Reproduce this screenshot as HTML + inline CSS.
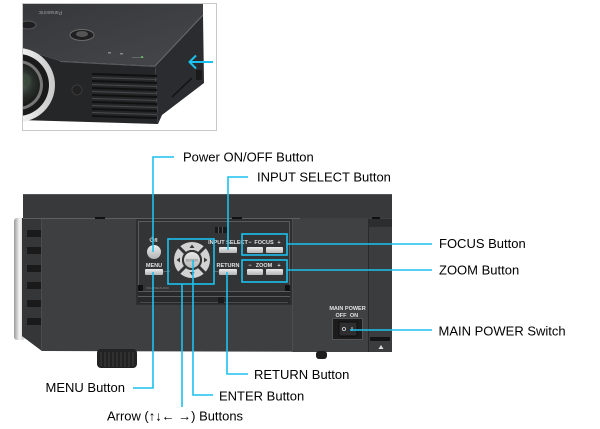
<!DOCTYPE html>
<html><head><meta charset="utf-8"><style>
html,body{margin:0;padding:0;background:#fff;width:600px;height:429px;overflow:hidden}
svg{display:block}
.t{font-family:"Liberation Sans",Arial,sans-serif;font-size:13px;fill:#000}
.s{font-family:"Liberation Sans",Arial,sans-serif;font-size:5.5px;fill:#e2e2e2;font-weight:bold}
.c{stroke:#1cc2ee;stroke-width:1.6;fill:none}
</style></head><body>
<svg width="600" height="429" viewBox="0 0 600 429" xmlns="http://www.w3.org/2000/svg">
<defs>
<clipPath id="fr"><rect x="23" y="4" width="193" height="126"/></clipPath>
<linearGradient id="btn" x1="0" y1="0" x2="0" y2="1"><stop offset="0" stop-color="#ececec"/><stop offset="1" stop-color="#b4b4b4"/></linearGradient>
<linearGradient id="top" x1="0" y1="0" x2="1" y2="1"><stop offset="0" stop-color="#36373a"/><stop offset="1" stop-color="#46474a"/></linearGradient>
<linearGradient id="silver" x1="0" y1="0" x2="1" y2="0"><stop offset="0" stop-color="#9a9a9a"/><stop offset="0.5" stop-color="#f4f4f4"/><stop offset="1" stop-color="#c8c8c8"/></linearGradient>
<radialGradient id="glass" cx="0.55" cy="0.45" r="0.6"><stop offset="0" stop-color="#5a6a5a"/><stop offset="0.5" stop-color="#2a302c"/><stop offset="1" stop-color="#111"/></radialGradient>
</defs>

<!-- ===== Top photo ===== -->
<rect x="22.5" y="3.5" width="194" height="127" fill="#fff" stroke="#c9c9c9"/>
<g clip-path="url(#fr)">
  <polygon points="20,3 203,3 203,15 155,66 60,61 20,48" fill="url(#top)"/>
  <polygon points="155,66 203,15 204,83 162,115 158,124" fill="#2b2c2f"/>
  <line x1="155" y1="66" x2="203" y2="15" stroke="#6a6b6e" stroke-width="1"/>
  <polygon points="20,48 60,61 155,66 158,124 20,120" fill="#252628"/>
  <line x1="60" y1="61.5" x2="155" y2="66.5" stroke="#5a5b5e" stroke-width="1"/>
  <g fill="#111">
    <polygon points="92,73 157,75 157,77 92,75"/>
    <polygon points="92,80 157,82 157,84 92,82"/>
    <polygon points="92,87 157,89 157,91 92,89"/>
    <polygon points="92,94 157,96 157,98 92,96"/>
    <polygon points="92,101 157,103 157,105 92,103"/>
    <polygon points="92,108 157,110 157,112 92,110"/>
    <polygon points="92,115 157,117 157,119 92,117"/>
  </g>
  <g stroke="#4a4b4e" stroke-width="1">
    <line x1="92" y1="77.5" x2="157" y2="79.5"/><line x1="92" y1="84.5" x2="157" y2="86.5"/>
    <line x1="92" y1="91.5" x2="157" y2="93.5"/><line x1="92" y1="98.5" x2="157" y2="100.5"/>
    <line x1="92" y1="105.5" x2="157" y2="107.5"/><line x1="92" y1="112.5" x2="157" y2="114.5"/>
  </g>
  <circle cx="77" cy="90" r="5" fill="#222" stroke="#3a3a3a"/>
  <line x1="172" y1="97" x2="192" y2="78" stroke="#111" stroke-width="1.5"/>
  <rect x="196" y="70" width="6" height="10" fill="#1a1a1a"/>
  <circle cx="18" cy="85" r="37" fill="url(#silver)"/>
  <circle cx="18" cy="85" r="31" fill="#1a1a1a"/>
  <circle cx="18" cy="85" r="25" fill="#777"/>
  <circle cx="18" cy="85" r="22" fill="url(#glass)"/>
  <circle cx="25" cy="80" r="6" fill="#3a4a3c" opacity="0.8"/>
  <ellipse cx="82" cy="35" rx="12" ry="5.5" fill="#202022" stroke="#6a6a6a"/>
  <ellipse cx="82" cy="34" rx="6" ry="3" fill="#555"/>
  <ellipse cx="28" cy="25" rx="8" ry="4" fill="#202022" stroke="#5a5a5a"/>
  <text x="78" y="9" font-family="Liberation Sans,sans-serif" font-size="5" fill="#999" transform="rotate(180 70 10)">Panasonic</text>
  <rect x="108" y="52" width="3" height="1.5" fill="#888"/>
  <rect x="120" y="53" width="3" height="1.5" fill="#888"/>
  <rect x="132" y="57" width="12" height="1" fill="#666"/>
  <circle cx="142" cy="57" r="1" fill="#6c6"/>
  <line x1="190" y1="62" x2="213" y2="62" stroke="#1cc2ee" stroke-width="2"/>
  <polyline points="196,55.5 189.5,62 196,68.5" fill="none" stroke="#1cc2ee" stroke-width="2"/>
</g>

<!-- ===== Main projector ===== -->
<rect x="14" y="218" width="11" height="122" rx="3" fill="url(#silver)"/>
<polygon points="22,218 392,218 392,352 42,351 22,336" fill="#3e3f41"/>
<rect x="22" y="218" width="19" height="118" fill="#353638"/>
<polygon points="22,336 41,336 42,351" fill="#353638"/>
<line x1="41.5" y1="219" x2="41.5" y2="350" stroke="#4a4b4d"/>
<g fill="#1a1a1b">
  <rect x="27" y="230" width="14" height="7"/>
  <rect x="27" y="247" width="14" height="7"/>
  <rect x="27" y="265" width="14" height="7"/>
  <rect x="27" y="282" width="14" height="7"/>
  <rect x="27" y="300" width="14" height="7"/>
  <rect x="27" y="318" width="14" height="7"/>
</g>
<rect x="23" y="194" width="369" height="24" fill="#38393b"/>
<line x1="23" y1="194.5" x2="392" y2="194.5" stroke="#555658"/>
<line x1="23" y1="218.5" x2="300" y2="218.5" stroke="#6a6b6d" stroke-width="0.8"/>
<rect x="95" y="217" width="10" height="2" fill="#111"/>
<rect x="232" y="217" width="10" height="2" fill="#111"/>
<rect x="372" y="217" width="8" height="3" fill="#111"/>

<rect x="292" y="219" width="76" height="133" fill="#404143"/>
<line x1="292.5" y1="219" x2="292.5" y2="352" stroke="#4c4d4f"/>
<rect x="368" y="219" width="24" height="8" fill="#2c2d2f"/>
<rect x="368" y="227" width="24" height="125" fill="#3b3c3e"/>
<line x1="368.5" y1="219" x2="368.5" y2="352" stroke="#2a2a2c"/>
<rect x="370" y="337" width="20" height="4" fill="#151515"/>
<polygon points="381,345 378.5,349 383.5,349" fill="#ddd"/>

<text class="s" x="347.5" y="310" text-anchor="middle" font-size="5">MAIN POWER</text>
<text class="s" x="341" y="317" text-anchor="middle" font-size="5">OFF</text>
<text class="s" x="354" y="317" text-anchor="middle" font-size="5">ON</text>
<rect x="332.5" y="318.5" width="30" height="21" fill="#1c1c1d" stroke="#555"/>
<rect x="339" y="322" width="18" height="14" fill="#2e2e30" stroke="#0e0e0e"/>
<text class="s" x="344" y="331" text-anchor="middle" font-size="5">O</text>
<text class="s" x="352" y="331" text-anchor="middle" font-size="5">I</text>

<rect x="97" y="349" width="40" height="19" rx="4" fill="#222"/>
<g stroke="#3e3e3e" stroke-width="1">
  <line x1="101" y1="352" x2="101" y2="366"/><line x1="105" y1="352" x2="105" y2="367"/>
  <line x1="109" y1="352" x2="109" y2="367"/><line x1="113" y1="352" x2="113" y2="367"/>
  <line x1="117" y1="352" x2="117" y2="367"/><line x1="121" y1="352" x2="121" y2="367"/>
  <line x1="125" y1="352" x2="125" y2="367"/><line x1="129" y1="352" x2="129" y2="367"/>
  <line x1="133" y1="352" x2="133" y2="366"/>
</g>
<rect x="316" y="351" width="11" height="8" rx="3" fill="#1e1e1e"/>

<rect x="136" y="219" width="156" height="86" fill="#2e2f31"/>
<rect x="138.5" y="221.5" width="151" height="70" fill="#333436" stroke="#5a5b5d"/>
<rect x="138" y="292" width="152" height="12" fill="#28292b"/>
<line x1="138" y1="296.5" x2="290" y2="296.5" stroke="#5c5d5f"/>
<line x1="140" y1="302.5" x2="288" y2="302.5" stroke="#4a4b4d"/>
<rect x="138" y="285" width="5" height="6" fill="#111"/>
<rect x="285" y="285" width="5" height="6" fill="#111"/>
<rect x="218" y="297" width="6" height="6" fill="#1a1a1a"/>
<text x="146" y="289" font-family="Liberation Sans,sans-serif" font-size="3" fill="#888">VOLUME/AUDIO</text>
<rect x="215" y="227" width="12" height="6" fill="#1a1a1a"/>
<line x1="218.5" y1="227" x2="218.5" y2="233" stroke="#555"/>
<line x1="222.5" y1="227" x2="222.5" y2="233" stroke="#555"/>

<path d="M150.6,238.2 A2,2 0 1 0 153.4,238.2" fill="none" stroke="#ddd" stroke-width="0.8"/>
<line x1="152" y1="236.8" x2="152" y2="239.5" stroke="#ddd" stroke-width="0.8"/>
<text class="s" x="154.5" y="242">/I</text>
<circle cx="154" cy="252" r="7" fill="url(#btn)"/>
<text class="s" x="154" y="267" text-anchor="middle">MENU</text>
<rect x="145" y="269" width="18" height="6" rx="1" fill="url(#btn)"/>
<line x1="163" y1="272" x2="170" y2="271" stroke="#999" stroke-width="0.6"/>

<circle cx="192" cy="260" r="14" fill="none" stroke="#d2d2d2" stroke-width="8"/>
<g stroke="#333436" stroke-width="3">
  <line x1="178" y1="246" x2="206" y2="274"/>
  <line x1="206" y1="246" x2="178" y2="274"/>
</g>
<circle cx="192" cy="260" r="9" fill="url(#btn)" stroke="#333436" stroke-width="2"/>
<text x="192" y="261.5" text-anchor="middle" font-family="Liberation Sans,sans-serif" font-size="3.5" fill="#666">ENTER</text>
<g fill="#3a3a3a">
  <polygon points="192,244.5 189.5,248 194.5,248"/>
  <polygon points="192,275.5 189.5,272 194.5,272"/>
  <polygon points="176.5,260 180,257.5 180,262.5"/>
  <polygon points="207.5,260 204,257.5 204,262.5"/>
</g>

<text class="s" x="228" y="244" text-anchor="middle">INPUT SELECT</text>
<rect x="219" y="247" width="18" height="6" rx="1" fill="url(#btn)"/>
<text class="s" x="228" y="267" text-anchor="middle">RETURN</text>
<rect x="219" y="269" width="18" height="6" rx="1" fill="url(#btn)"/>
<line x1="219" y1="272" x2="213" y2="271" stroke="#999" stroke-width="0.6"/>

<text class="s" x="250" y="244" text-anchor="middle">−</text>
<text class="s" x="264" y="244" text-anchor="middle">FOCUS</text>
<text class="s" x="279" y="244" text-anchor="middle">+</text>
<rect x="247" y="247" width="16" height="6" rx="1" fill="url(#btn)"/>
<rect x="266" y="247" width="17" height="6" rx="1" fill="url(#btn)"/>
<text class="s" x="250" y="267" text-anchor="middle">−</text>
<text class="s" x="264" y="267" text-anchor="middle">ZOOM</text>
<text class="s" x="279" y="267" text-anchor="middle">+</text>
<rect x="247" y="269" width="16" height="6" rx="1" fill="url(#btn)"/>
<rect x="266" y="269" width="17" height="6" rx="1" fill="url(#btn)"/>

<rect class="c" x="168" y="239" width="46" height="45"/>
<rect class="c" x="242" y="234" width="45" height="21"/>
<rect class="c" x="242" y="260" width="45" height="22"/>

<polyline class="c" points="153,252 153,157 174,157"/>
<polyline class="c" points="228,250 228,177 248,177"/>
<line class="c" x1="287" y1="244" x2="432" y2="244"/>
<line class="c" x1="287" y1="270" x2="432" y2="270"/>
<line class="c" x1="350" y1="330" x2="432" y2="330"/>
<polyline class="c" points="153,272 153,388 133,388"/>
<line class="c" x1="182" y1="284" x2="182" y2="407"/>
<polyline class="c" points="193,260 193,395 213,395"/>
<polyline class="c" points="227,272 227,374 248,374"/>

<text class="t" x="183" y="161.5">Power ON/OFF Button</text>
<text class="t" x="257" y="181.5">INPUT SELECT Button</text>
<text class="t" x="439" y="248">FOCUS Button</text>
<text class="t" x="439" y="274.5">ZOOM Button</text>
<text class="t" x="438.5" y="335.5">MAIN POWER Switch</text>
<text class="t" x="125" y="392" text-anchor="end">MENU Button</text>
<text class="t" x="254" y="379">RETURN Button</text>
<text class="t" x="219" y="400.5">ENTER Button</text>
<text class="t" x="107" y="420.5" textLength="136" lengthAdjust="spacingAndGlyphs">Arrow (↑↓← →) Buttons</text>
</svg>
</body></html>
